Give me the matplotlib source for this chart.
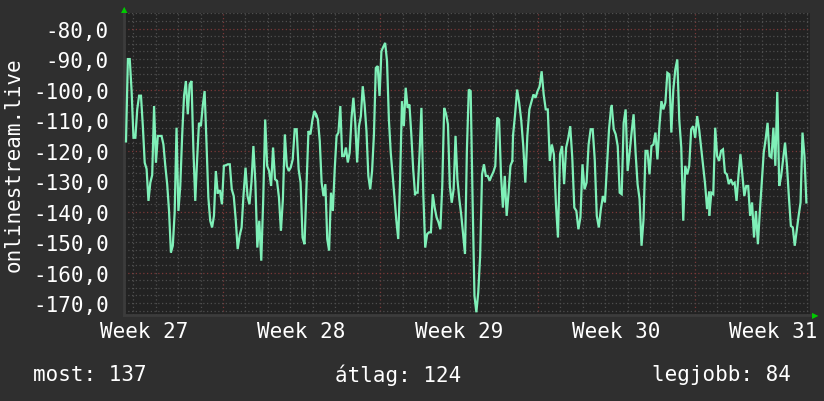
import numpy as np
import matplotlib.pyplot as plt
from matplotlib.ticker import FuncFormatter

seg1 = [-117, -90, -90, -100.5, -115.8, -115.8, -106.5, -102, -102, -112, -124, -126, -136.5, -130.5,
        -128, -105.4, -124, -115.2, -115.2, -115.2, -118, -125, -131, -139.8, -153.4, -151.2, -140.3,
        -112.5, -139.8, -131.6, -115.2, -102.1, -97.2, -108.1, -98.3, -97.2, -119.6, -136.5, -122.9,
        -110.9, -112, -105.4, -100.5, -117.4, -135.4, -143, -145.2, -141.4, -126.7, -133.8]
seg2 = [-133.2, -133.2, -137.6, -125, -124.8, -124.5, -124.5, -132.7, -134.9, -142.5, -152.3, -147.9,
        -145.2, -134.3, -125.6, -134.9, -137.6, -130.5, -118.5, -130.5, -151.8, -143, -156.1, -135.9,
        -109.8, -125, -126.7, -131.6, -119, -129.4, -129.9, -135.4, -146.3, -135.9, -114.7, -125,
        -126.7, -125.5, -122.9, -113, -113, -126.1, -130.5, -148.5, -150.7, -131.6, -113.6, -114.7,
        -110, -107, -108.7]
seg3 = [-108.1, -109.8, -116.9, -130.5, -134.9, -131, -149, -152.8, -133.8, -139.8, -126.1, -115.2,
        -114.1, -105.4, -121.8, -121.8, -119, -123.9, -120.7, -109.2, -102.7, -110.9, -123.9, -112,
        -108.7, -98.9, -104.9, -113.6, -128.3, -132.7, -126.7, -114.7, -92.9, -92.3, -102.1, -87.4,
        -86, -84.7, -90.7, -109.8, -120.7, -128, -135.4, -143, -149, -129.4, -103.8, -112, -99.4,
        -106, -104.9, -114.7, -126.1, -134.3]
seg4 = [-133.8, -133.8, -121.2, -106, -134.3, -151.8, -147.4, -146.8, -146.8, -134.3, -138.7, -141.9,
        -143.5, -145.8, -131.6, -106, -108, -111.4, -131.6, -137.1, -132.7, -115.2, -129.4, -135.9,
        -141, -147.4, -153.9, -120, -100, -100.5, -136, -167.6, -173, -166.5, -154.5, -127.8, -124.5,
        -128.3, -128.3, -129.9, -128.3, -127, -125, -109.2, -109.8, -127.8, -138.7, -128.3, -141.4,
        -133.8, -125, -123.4]
seg5 = [-115, -108.1, -100, -104.3, -110, -118.5, -130.5, -115.2, -106.5, -104, -101.6, -102.7,
        -100.5, -99, -94, -101.6, -106.5, -106.5, -123.4, -118, -121.2, -137.6, -148.5, -121.2,
        -118.5, -131, -119, -116, -112, -122.3, -138.7, -139.8, -145.8, -141.9, -124.5, -132.7,
        -130.5, -118, -113, -113, -122.9, -141.4, -145.2, -139.2, -134.9, -137, -125, -113, -106]
seg6 = [-105.4, -113, -114.7, -118.5, -133.8, -134.3, -110.9, -106.5, -126.7, -120.7, -114, -108.1,
        -120.7, -131, -135.9, -151.2, -142.5, -120.1, -120.1, -127.8, -118.5, -118, -114.1, -122.9,
        -112, -103.8, -106.5, -104.3, -94.5, -95, -114.1, -100, -93.4, -90.1, -110, -119, -143, -125,
        -127.8, -125, -113, -112, -115.8, -108.7, -113, -119, -125, -131, -139.2, -133.8]
seg7 = [-141, -133.8, -134.3, -112.5, -121.8, -123.4, -120.1, -119.6, -127.2, -127.8, -131, -129.4,
        -131, -130.5, -136.5, -128, -121.2, -128, -134.9, -131.6, -131.6, -141.4, -137, -148.5,
        -139.8, -150.7, -140, -130.5, -120.7, -116.3, -110.9, -121.8, -122.3, -112.5, -125, -100.8,
        -131.6, -128.3, -122.9, -117.4, -125, -135.4, -144.7, -145.2, -151.2, -146.3, -141.4, -137,
        -114.1, -121.8, -137]
segments = [seg1, seg2, seg3, seg4, seg5, seg6, seg7]

# time span of each stretch, in days since the start of week 27
seg_days = [(2.683, 6.764), (6.777, 11.152), (11.139, 15.545), (15.576, 19.875),
            (19.906, 24.268), (24.298, 28.629), (28.643, 32.959)]

week_labels = ["Week 27", "Week 28", "Week 29", "Week 30", "Week 31"]
y_labels = [-80, -90, -100, -110, -120, -130, -140, -150, -160, -170]
legend_txt = ["most: 137", "átlag: 124", "legjobb: 84"]

BG = "#2f2f2f"
PLOT_BG = "#222222"
LINE = "#7ff0b8"
FONT = "DejaVu Sans Mono"

W, H = 824, 402
fig = plt.figure(figsize=(W / 100, H / 100), dpi=100, facecolor=BG)
ax = fig.add_axes([124 / W, 1 - 316 / H, 686 / W, 302 / H], facecolor=PLOT_BG)

x0, x1 = 2.594, 33.12
y0, y1 = -173.9, -74.9
ax.set_xlim(x0, x1)
ax.set_ylim(y0, y1)

# grid: minor grey dotted, major dark red dotted
for d in np.arange(3, 34):
    col = "#7a3838" if d % 7 == 0 else "#4e4e4e"
    ax.axvline(d, color=col, lw=0.9, ls=(0, (1, 2)), zorder=1)
for v in np.arange(-172.5, -74, 2.5):
    col = "#7a3838" if v % 20 == 0 else "#4e4e4e"
    ax.axhline(v, color=col, lw=0.9, ls=(0, (1, 2)), zorder=1)

for seg, (a, b) in zip(segments, seg_days):
    ax.plot(np.linspace(a, b, len(seg)), seg, color=LINE, lw=1.6, zorder=3,
            solid_joinstyle="miter")

# join the stretches
for i in range(len(segments) - 1):
    ax.plot([seg_days[i][1], seg_days[i + 1][0]], [segments[i][-1], segments[i + 1][0]],
            color=LINE, lw=1.6, zorder=3)

ax.set_yticks(y_labels)
ax.yaxis.set_major_formatter(FuncFormatter(lambda v, p: f"{v:.1f}".replace(".", ",")))
ax.set_xticks([3.5 + 7 * i for i in range(len(week_labels))])
ax.set_xticklabels(week_labels)
ax.tick_params(length=0, colors="white", labelsize=15)
ax.tick_params(axis="y", pad=11)
ax.tick_params(axis="x", pad=4)
for lab in ax.get_xticklabels() + ax.get_yticklabels():
    lab.set_family(FONT)

for s in ax.spines.values():
    s.set_visible(False)
ax.spines["left"].set_visible(True)
ax.spines["bottom"].set_visible(True)
ax.spines["left"].set_color("#3c3c3c")
ax.spines["bottom"].set_color("#3c3c3c")
ax.spines["left"].set_linewidth(2)
ax.spines["bottom"].set_linewidth(2)

# arrow heads at the axis ends
fig.text(124 / W, 1 - 10 / H, "\u25b2", color="#00cc00", fontsize=6, ha="center", va="center")
fig.text(815 / W, 1 - 316 / H, "\u25b6", color="#00cc00", fontsize=6, ha="center", va="center")

fig.text(14 / W, 1 - 165 / H, "onlinestream.live", rotation=90, color="white",
         fontsize=15, family=FONT, ha="center", va="center")

fig.text(33 / W, 1 - 375 / H, legend_txt[0], color="white", fontsize=15, family=FONT,
         ha="left", va="center")
fig.text(398 / W, 1 - 375 / H, legend_txt[1], color="white", fontsize=15, family=FONT,
         ha="center", va="center")
fig.text(791 / W, 1 - 375 / H, legend_txt[2], color="white", fontsize=15, family=FONT,
         ha="right", va="center")

fig.savefig("out.png", dpi=100, facecolor=BG)
